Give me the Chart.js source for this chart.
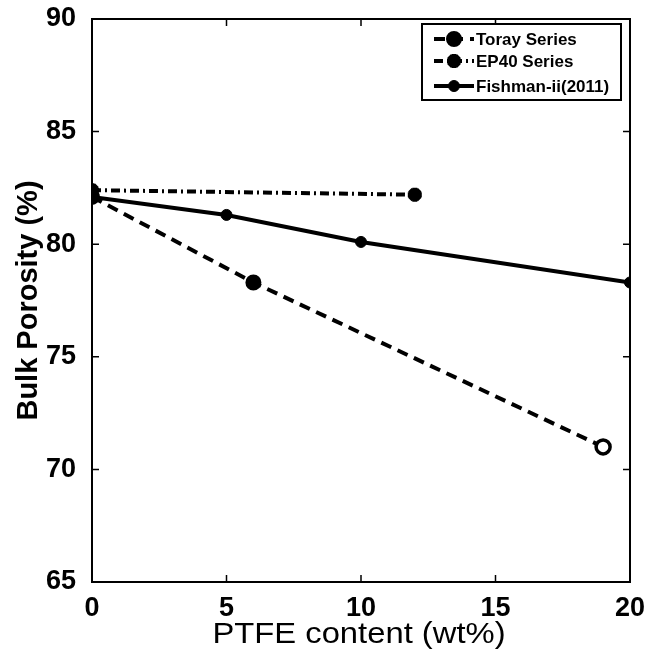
<!DOCTYPE html>
<html>
<head>
<meta charset="utf-8">
<script src="https://cdn.jsdelivr.net/npm/chart.js@4"></script>
<style>
  html, body { margin: 0; padding: 0; background: #fff; }
  #wrap { width: 646px; height: 656px; }
</style>
</head>
<body>
<div id="wrap"><canvas id="porosityChart" width="646" height="656"></canvas></div>
<script>
// data
const seriesNames = ['Toray Series', 'EP40 Series', 'Fishman-ii(2011)'];
const torayX = [0, 6, 19];
const torayY = [82.1, 78.3, 71.0];
const ep40X = [0, 12];
const ep40Y = [82.4, 82.2];
const fishmanX = [0, 5, 10, 20];
const fishmanY = [82.1, 81.3, 80.1, 78.3];
const xTicks = [0, 5, 10, 15, 20];
const yTicks = [65, 70, 75, 80, 85, 90];
const xTitle = 'PTFE content (wt%)';
const yTitle = 'Bulk Porosity (%)';

function toPoints(xs, ys) {
    return xs.map((x, i) => ({ x: x, y: ys[i] }));
}

const FONT = "'Liberation Sans', Arial, sans-serif";

// box with inward ticks on all four sides, like matlab
const boxPlugin = {
    id: 'box',
    afterDraw(chart) {
        const c = chart.ctx;
        const a = chart.chartArea;
        const xs = chart.scales.x, ys = chart.scales.y;
        c.save();
        c.strokeStyle = '#000';
        c.lineWidth = 2;
        c.strokeRect(a.left, a.top, a.right - a.left, a.bottom - a.top);
        c.lineWidth = 1.5;
        const len = 7;
        xTicks.forEach(v => {
            const px = xs.getPixelForValue(v);
            c.beginPath();
            c.moveTo(px, a.bottom); c.lineTo(px, a.bottom - len);
            c.moveTo(px, a.top); c.lineTo(px, a.top + len);
            c.stroke();
        });
        yTicks.forEach(v => {
            const py = ys.getPixelForValue(v);
            c.beginPath();
            c.moveTo(a.left, py); c.lineTo(a.left + len, py);
            c.moveTo(a.right, py); c.lineTo(a.right - len, py);
            c.stroke();
        });

        // x title: the original font is set wide, so stretch it a little
        const cx = (a.left + a.right) / 2 - 2;
        c.fillStyle = '#000';
        c.font = '29px ' + FONT;
        c.textAlign = 'center';
        c.textBaseline = 'alphabetic';
        c.translate(cx, 643);
        c.scale(1.13, 1);
        c.fillText(xTitle, 0, 0);
        c.restore();
    }
};

// legend drawn like the matlab one: line sample + marker + label
const legendPlugin = {
    id: 'matLegend',
    afterDraw(chart) {
        const c = chart.ctx;
        const left = 422, top = 24, right = 621, bottom = 100;
        const rows = [39, 61, 86];
        c.save();
        c.fillStyle = '#fff';
        c.fillRect(left, top, right - left, bottom - top);
        c.strokeStyle = '#000';
        c.lineWidth = 2;
        c.strokeRect(left, top, right - left, bottom - top);
        chart.data.datasets.forEach((ds, i) => {
            const y = rows[i];
            c.strokeStyle = '#000';
            c.fillStyle = '#000';
            c.lineWidth = ds.borderWidth;
            c.setLineDash(ds.borderDash || []);
            c.beginPath();
            c.moveTo(434, y); c.lineTo(474, y);
            c.stroke();
            c.setLineDash([]);
            const bw = Array.isArray(ds.pointBorderWidth) ? ds.pointBorderWidth[0] : ds.pointBorderWidth;
            c.lineWidth = bw;
            Chart.helpers.drawPoint(c, {
                pointStyle: ds.pointStyle,
                radius: ds.pointRadius,
                borderWidth: bw,
                rotation: 0
            }, 454, y);
            c.fillStyle = '#000';
            c.font = 'bold 17px ' + FONT;
            c.textAlign = 'left';
            c.textBaseline = 'middle';
            c.fillText(seriesNames[i], 476, y + 1);
        });
        c.restore();
    }
};

let ctx = document.getElementById('porosityChart').getContext('2d');
let porosityChart = new Chart(ctx, {
    type: 'scatter',
    data: {
        datasets: [{
            label: seriesNames[0],
            data: toPoints(torayX, torayY),
            showLine: true,
            borderColor: '#000',
            borderWidth: 4,
            borderDash: [11, 7],
            pointStyle: 'circle',
            pointRadius: 7,
            pointBorderWidth: [2, 2, 3.5],
            pointBorderColor: '#000',
            pointBackgroundColor: ['#000', '#000', '#fff']
        }, {
            label: seriesNames[1],
            data: toPoints(ep40X, ep40Y),
            showLine: true,
            borderColor: '#000',
            borderWidth: 4,
            borderDash: [9, 4, 2, 4],
            pointStyle: 'star',
            pointRadius: 7,
            pointBorderWidth: 5,
            pointBorderColor: '#000',
            pointBackgroundColor: '#000'
        }, {
            label: seriesNames[2],
            data: toPoints(fishmanX, fishmanY),
            showLine: true,
            borderColor: '#000',
            borderWidth: 4,
            pointStyle: 'circle',
            pointRadius: 5.5,
            pointBorderWidth: 1,
            pointBorderColor: '#000',
            pointBackgroundColor: '#000'
        }]
    },
    options: {
        responsive: false,
        animation: false,
        layout: { padding: { top: 19, right: 16, left: 0, bottom: 0 } },
        plugins: {
            legend: { display: false },
            tooltip: { enabled: false }
        },
        scales: {
            x: {
                type: 'linear',
                min: 0, max: 20,
                afterBuildTicks: s => { s.ticks = xTicks.map(v => ({ value: v })); },
                afterFit: s => { s.height = 74; s.paddingLeft = 0; s.paddingRight = 0; },
                grid: { display: false },
                border: { display: false },
                ticks: { color: '#000', padding: 2, font: { family: FONT, size: 27, weight: 'bold' } },
                title: { display: false }
            },
            y: {
                min: 65, max: 90,
                afterBuildTicks: s => { s.ticks = yTicks.map(v => ({ value: v })); },
                afterFit: s => { s.width = 92; s.paddingTop = 0; s.paddingBottom = 0; },
                grid: { display: false },
                border: { display: false },
                ticks: { color: '#000', padding: 8, font: { family: FONT, size: 27, weight: 'bold' } },
                title: {
                    display: true,
                    text: yTitle,
                    color: '#000',
                    padding: { top: 12, bottom: 0 },
                    font: { family: FONT, size: 29, weight: 'bold' }
                }
            }
        }
    },
    plugins: [boxPlugin, legendPlugin]
});
</script>
</body>
</html>
